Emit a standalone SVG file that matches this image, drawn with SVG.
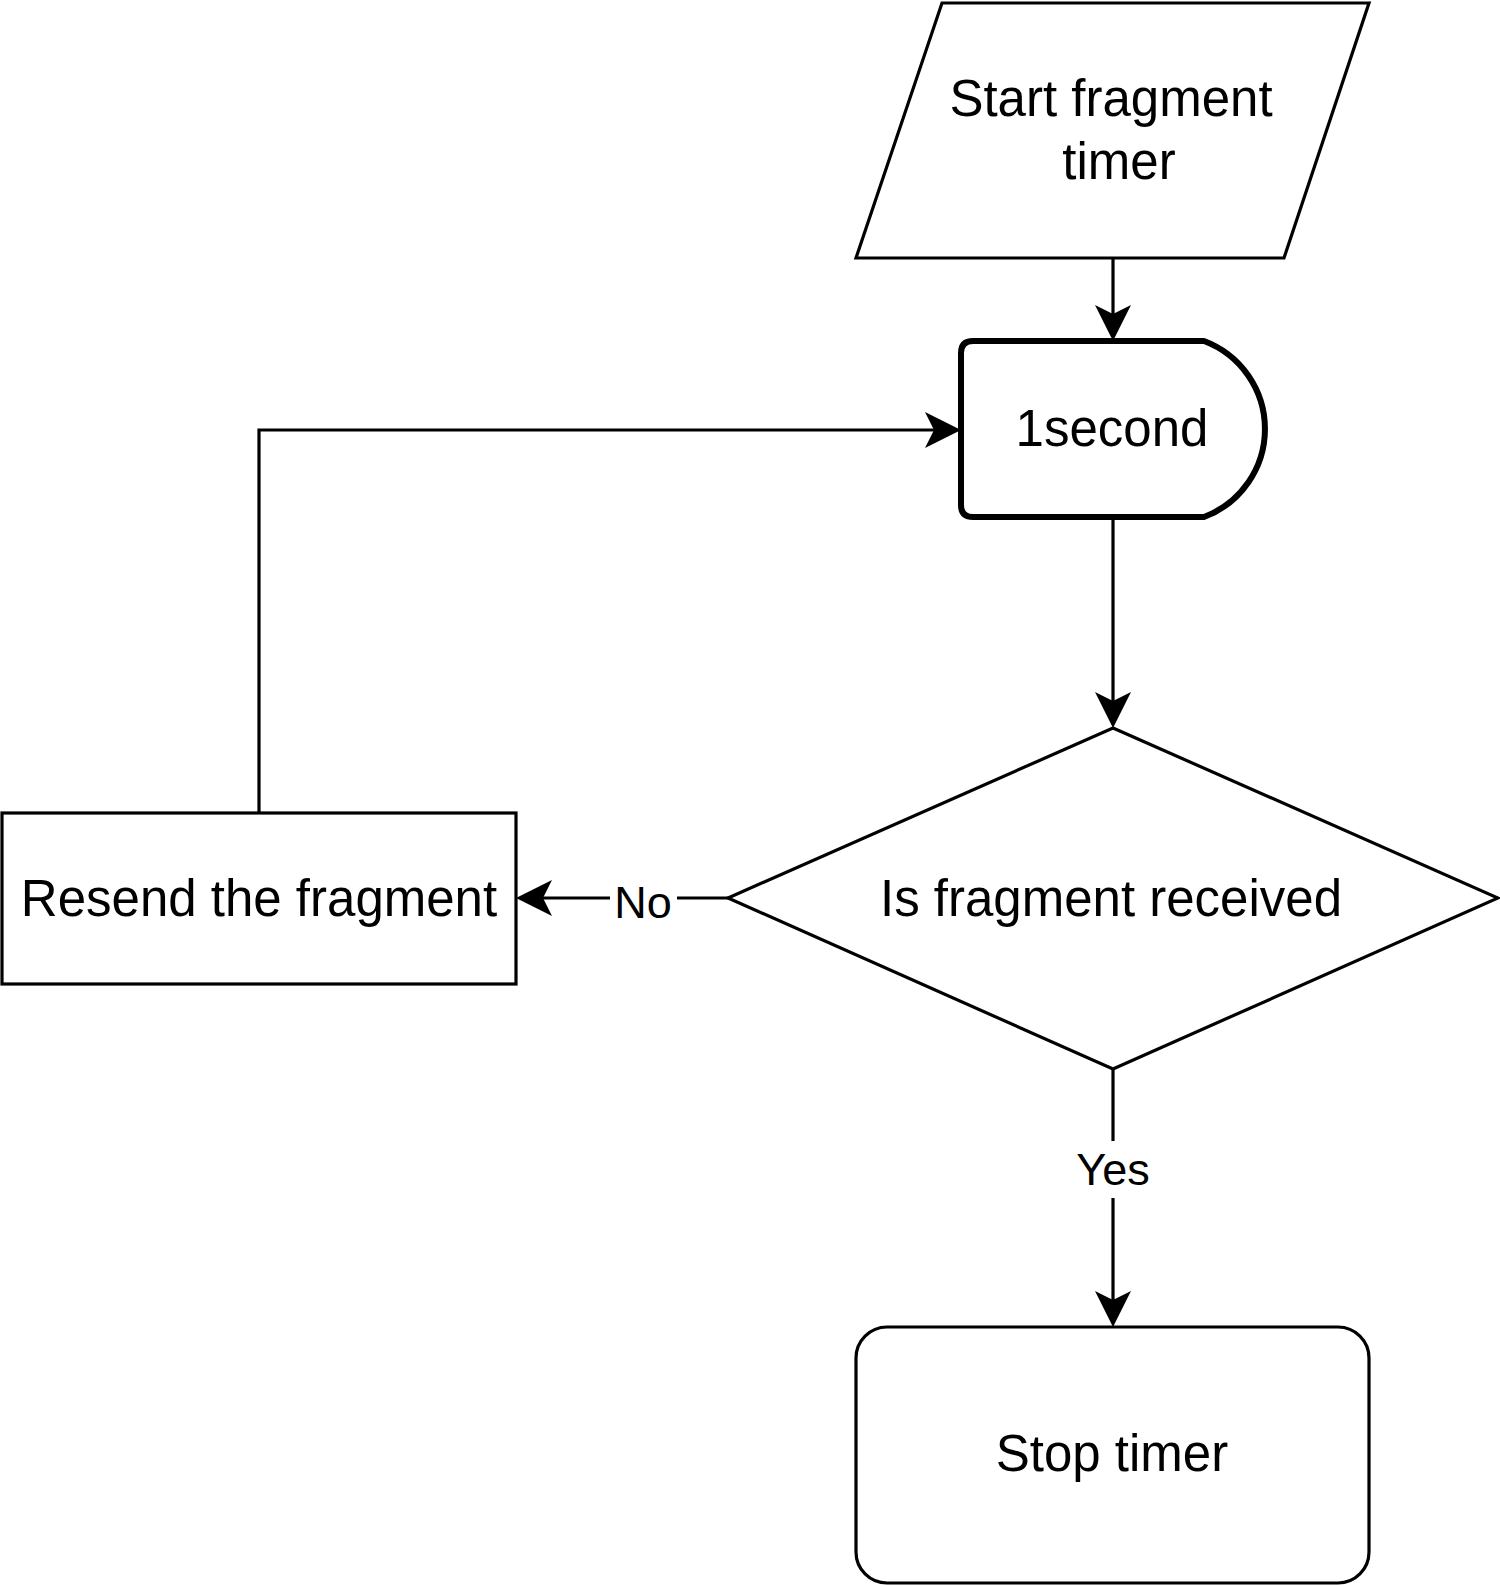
<svg xmlns="http://www.w3.org/2000/svg" width="1500" height="1586" viewBox="0 0 1500 1586">
<style>
.shape{fill:#fff;stroke:#000;stroke-width:3.2;stroke-linejoin:miter}
.thick{stroke-width:6;stroke-linejoin:round}
.edge{fill:none;stroke:#000;stroke-width:3.2}
.t{font-family:"Liberation Sans",Arial,Helvetica,sans-serif;font-size:51px;fill:#000;text-anchor:middle}
.lbl{font-family:"Liberation Sans",Arial,Helvetica,sans-serif;font-size:45px;fill:#000;text-anchor:middle}
</style>
<defs>
<marker id="arr" viewBox="0 0 36 36" refX="9" refY="18" markerWidth="36" markerHeight="36" markerUnits="userSpaceOnUse" orient="auto">
<path d="M36,18 L0,0 L9,18 L0,36 Z" fill="#000"/>
</marker>
</defs>
<rect width="1500" height="1586" fill="#fff"/>
<g id="connectors">
<path class="edge" d="M1113,258 V314" marker-end="url(#arr)"/>
<path class="edge" d="M1113,517 V701" marker-end="url(#arr)"/>
<path class="edge" d="M1113,1069 V1300" marker-end="url(#arr)"/>
<path class="edge" d="M728,898 H543" marker-end="url(#arr)"/>
<path class="edge" d="M259,813 V430 H934" marker-end="url(#arr)"/>
<g id="label-yes">
<rect x="1086" y="1141" width="54" height="57" fill="#fff"/>
<text class="lbl" x="1113" y="1185">Yes</text>
</g>
<g id="label-no">
<rect x="610" y="876" width="67" height="46" fill="#fff"/>
<text class="lbl" x="643" y="918">No</text>
</g>
</g>
<g id="start">
<polygon class="shape" points="942,3 1369,3 1284,258 856,258"/>
<text class="t" x="1111" y="116">Start fragment</text>
<text class="t" x="1119" y="179">timer</text>
</g>
<g id="delay">
<path class="shape thick" d="M973,341 H1204 A94,94 0 0 1 1204,517 H973 Q961,517 961,505 V353 Q961,341 973,341 Z"/>
<text class="t" x="1112" y="446">1second</text>
</g>
<g id="decision">
<polygon class="shape" points="1113,728 1498,898 1113,1069 728,898"/>
<text class="t" x="1111" y="916">Is fragment received</text>
</g>
<g id="resend">
<rect class="shape" x="2" y="813" width="514" height="171"/>
<text class="t" x="259" y="916">Resend the fragment</text>
</g>
<g id="stop">
<rect class="shape" x="856" y="1327" width="513" height="256" rx="31" ry="31"/>
<text class="t" x="1112" y="1471">Stop timer</text>
</g>
</svg>
